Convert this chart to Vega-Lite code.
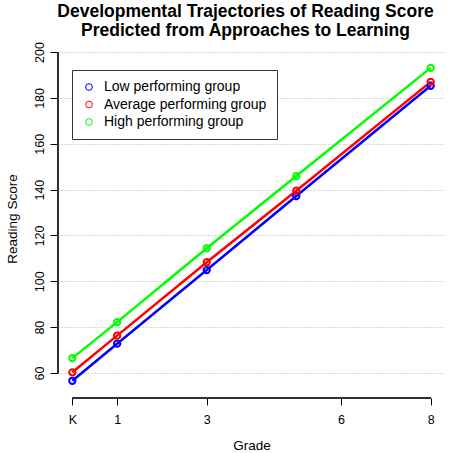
{
  "$schema": "https://vega.github.io/schema/vega-lite/v6.json",
  "width": 387,
  "height": 359,
  "autosize": {"type": "none"},
  "padding": {"left": 58, "top": 39, "right": 12, "bottom": 55},
  "background": "white",
  "config": {
    "font": "Liberation Sans",
    "view": {"stroke": null},
    "axis": {"labelColor": "black", "titleColor": "black", "tickColor": "black", "titleFontWeight": "normal"}
  },
  "title": {
    "text": ["Developmental Trajectories of Reading Score", "Predicted from Approaches to Learning"],
    "fontSize": 17.5,
    "fontWeight": "bold",
    "lineHeight": 19,
    "anchor": "middle",
    "frame": "group",
    "dx": -6,
    "offset": 0,
    "color": "black"
  },
  "data": {
    "values": [
      {"grade": 0, "score": 56.6, "group": "Low performing group"},
      {"grade": 1, "score": 72.8, "group": "Low performing group"},
      {"grade": 3, "score": 104.9, "group": "Low performing group"},
      {"grade": 5, "score": 137.2, "group": "Low performing group"},
      {"grade": 8, "score": 185.3, "group": "Low performing group"},
      {"grade": 0, "score": 60.3, "group": "Average performing group"},
      {"grade": 1, "score": 76.3, "group": "Average performing group"},
      {"grade": 3, "score": 108.3, "group": "Average performing group"},
      {"grade": 5, "score": 139.5, "group": "Average performing group"},
      {"grade": 8, "score": 187.0, "group": "Average performing group"},
      {"grade": 0, "score": 66.5, "group": "High performing group"},
      {"grade": 1, "score": 82.2, "group": "High performing group"},
      {"grade": 3, "score": 114.4, "group": "High performing group"},
      {"grade": 5, "score": 145.9, "group": "High performing group"},
      {"grade": 8, "score": 193.1, "group": "High performing group"}
    ]
  },
  "layer": [
    {
      "mark": {"type": "line", "strokeWidth": 2.5},
      "encoding": {
        "x": {
          "field": "grade", "type": "quantitative",
          "scale": {"domain": [-0.32, 8.32], "nice": false, "zero": false},
          "axis": {
            "values": [0, 1, 3, 6, 8],
            "labelExpr": "datum.value == 0 ? 'K' : datum.label",
            "domain": false, "grid": false, "tickSize": 7,
            "labelFontSize": 12.5, "labelPadding": 8,
            "title": "Grade", "titleFontSize": 13.5, "titlePadding": 13
          }
        },
        "y": {
          "field": "score", "type": "quantitative",
          "scale": {"domain": [49.1, 205.7], "nice": false, "zero": false},
          "axis": {
            "values": [60, 80, 100, 120, 140, 160, 180, 200],
            "labelAngle": 270, "domain": false, "grid": true,
            "gridDash": [1, 2], "gridColor": "#b0b0b0", "gridWidth": 1,
            "tickSize": 8, "labelFontSize": 12.5, "labelPadding": 4,
            "title": "Reading Score", "titleFontSize": 13.5, "titlePadding": 14
          }
        },
        "color": {
          "field": "group", "type": "nominal",
          "sort": ["Low performing group", "Average performing group", "High performing group"],
          "scale": {"domain": ["Low performing group", "Average performing group", "High performing group"], "range": ["#0000FF", "#FF0000", "#00FF00"]},
          "legend": {
            "orient": "none", "legendX": 14, "legendY": 31,
            "title": null, "fillColor": "white", "strokeColor": "#333333",
            "padding": 10, "labelFontSize": 14, "labelColor": "black", "labelLimit": 400,
            "symbolType": "circle", "symbolSize": 45, "symbolStrokeWidth": 1,
            "symbolFillColor": "transparent", "labelOffset": 8, "rowPadding": 3.5
          }
        },
        "order": {"field": "grade"}
      }
    },
    {
      "mark": {"type": "point", "shape": "circle", "filled": false, "size": 40, "strokeWidth": 2, "opacity": 1},
      "encoding": {
        "x": {"field": "grade", "type": "quantitative"},
        "y": {"field": "score", "type": "quantitative"},
        "color": {"field": "group", "type": "nominal"}
      }
    },
    {
      "mark": {"type": "rule", "color": "#333333", "strokeWidth": 1},
      "encoding": {"x": {"datum": -0.32}, "y": {"datum": 60}, "y2": {"datum": 200}}
    },
    {
      "mark": {"type": "rule", "color": "#333333", "strokeWidth": 1},
      "encoding": {"y": {"datum": 49.1}, "x": {"datum": 0}, "x2": {"datum": 8}}
    }
  ]
}
